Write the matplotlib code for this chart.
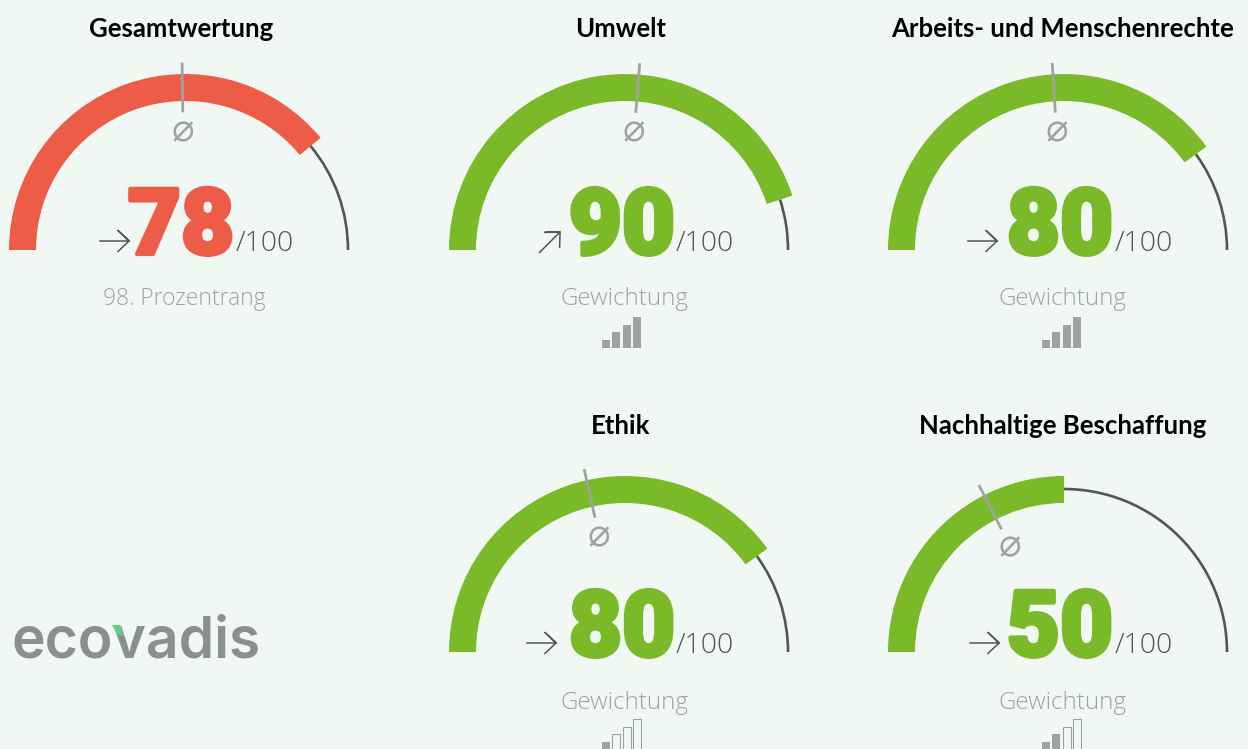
import numpy as np
import matplotlib
matplotlib.use('Agg')
import matplotlib.pyplot as plt
import matplotlib.patheffects as pe
from matplotlib.patches import Wedge, Arc

# Daten
titles = ['Gesamtwertung', 'Umwelt', 'Arbeits- und Menschenrechte', 'Ethik', 'Nachhaltige Beschaffung']
scores = [78, 90, 80, 80, 50]
averages = [49.5, 52.5, 48, 43, 35]
trends = ['flat', 'up', 'flat', 'flat', 'flat']
captions = ['98. Prozentrang', 'Gewichtung', 'Gewichtung', 'Gewichtung', 'Gewichtung']
weights = [0, 4, 4, 1, 2]
bar_levels = [8, 16, 23, 31]

# Layout (Pixel)
centers_x = [185, 625, 1064, 625, 1064]
centers_y = [250, 250, 250, 652, 652]
title_x = [181, 621, 1063, 621, 1063]
number_x = [181, 622, 1060, 622, 1060]
tip_x = [129, 560, 997, 556, 999]
slash_x = [236, 676, 1115, 676, 1115]
bar_x = [0, 606, 1046, 606, 1046]
caption_size = [16.5, 17.4, 17.4, 17.4, 17.4]

RED = '#ec5c47'
GREEN = '#7ab928'
DARK = '#555555'
GREY = '#a0a2a2'
BG = '#f1f8f3'
H = 749


def angle(v):
    return 180 * (1 - v / 100)


def draw_gauge(ax, cx, cy_px, score, avg, colour):
    cy = H - cy_px
    ax.add_patch(Wedge((cx, cy), 176, angle(score), 180, width=27, fc=colour, ec='none'))
    ax.add_patch(Arc((cx, cy), 326, 326, theta1=0, theta2=angle(score), color=DARK, lw=1.9))
    a = np.radians(angle(avg))
    ax.plot([cx + 139 * np.cos(a), cx + 186 * np.cos(a)],
            [cy + 139 * np.sin(a), cy + 186 * np.sin(a)], color=GREY, lw=2)
    ax.text(cx + 119 * np.cos(a), cy + 119 * np.sin(a), '\u2300', color=GREY, fontsize=27,
            ha='center', va='center', family='DejaVu Sans')


def draw_arrow(ax, tip_px, y_px, rot):
    # Pfeil aus Schaft und Winkel, um rot Grad gedreht
    shape = np.array([[-29, 0], [0, 0], [-11, 10.5], [0, 0], [-11, -10.5]], dtype=float)
    r = np.radians(rot)
    x = shape[:, 0] * np.cos(r) - shape[:, 1] * np.sin(r)
    y = shape[:, 0] * np.sin(r) + shape[:, 1] * np.cos(r)
    ax.plot(tip_px + x, H - y_px + y, color=DARK, lw=1.1, solid_joinstyle='round')


fig = plt.figure(figsize=(12.48, 7.49), dpi=100, facecolor=BG)
ax = fig.add_axes([0, 0, 1, 1])
ax.set_xlim(0, 1248)
ax.set_ylim(0, H)
ax.axis('off')

for i in range(5):
    colour = RED if i == 0 else GREEN
    cx, cy_px = centers_x[i], centers_y[i]
    draw_gauge(ax, cx, cy_px, scores[i], averages[i], colour)
    title_y = H - 29 if cy_px == 250 else H - 426
    ax.text(title_x[i], title_y, titles[i], fontsize=18.5, fontweight='bold', color='black',
            ha='center', va='center', family='Lato')
    ax.text(number_x[i], H - (cy_px + 4), str(scores[i]), fontsize=66, fontweight=900, color=colour,
            ha='center', va='baseline', family='Roboto',
            path_effects=[pe.withStroke(linewidth=3, foreground=colour)])
    ax.text(slash_x[i], H - (cy_px + 1), '/100', fontsize=20.3, color=DARK, fontweight=300,
            ha='left', va='baseline', family='Open Sans')
    if trends[i] == 'flat':
        draw_arrow(ax, tip_x[i], cy_px - 9, 0)
    else:
        draw_arrow(ax, tip_x[i], cy_px - 18, 45)
    cap_y = H - (cy_px + 49 if cy_px == 250 else cy_px + 51)
    ax.text(cx - 1, cap_y, captions[i], fontsize=caption_size[i], color=GREY, fontweight=300,
            ha='center', va='center', family='Open Sans')
    if i:
        bottom = H - (cy_px + 98)
        xs = bar_x[i] + np.arange(4) * 10.4
        filled = [k < weights[i] for k in range(4)]
        ax.bar(xs, bar_levels, width=8, bottom=bottom,
               color=[GREY if f else 'none' for f in filled],
               edgecolor=GREY, linewidth=[0 if f else 0.8 for f in filled])

# Logo
ax.text(12, H - 657, 'ecovadis', fontsize=41, color='#8c8f8c', ha='left', va='baseline', family='Inter', fontweight=600)
ax.fill([112, 120, 124, 117], [H - 625, H - 625, H - 637, H - 634], color='#5fd08a', lw=0, zorder=5)

fig.savefig('out.png', dpi=100, facecolor=BG)
